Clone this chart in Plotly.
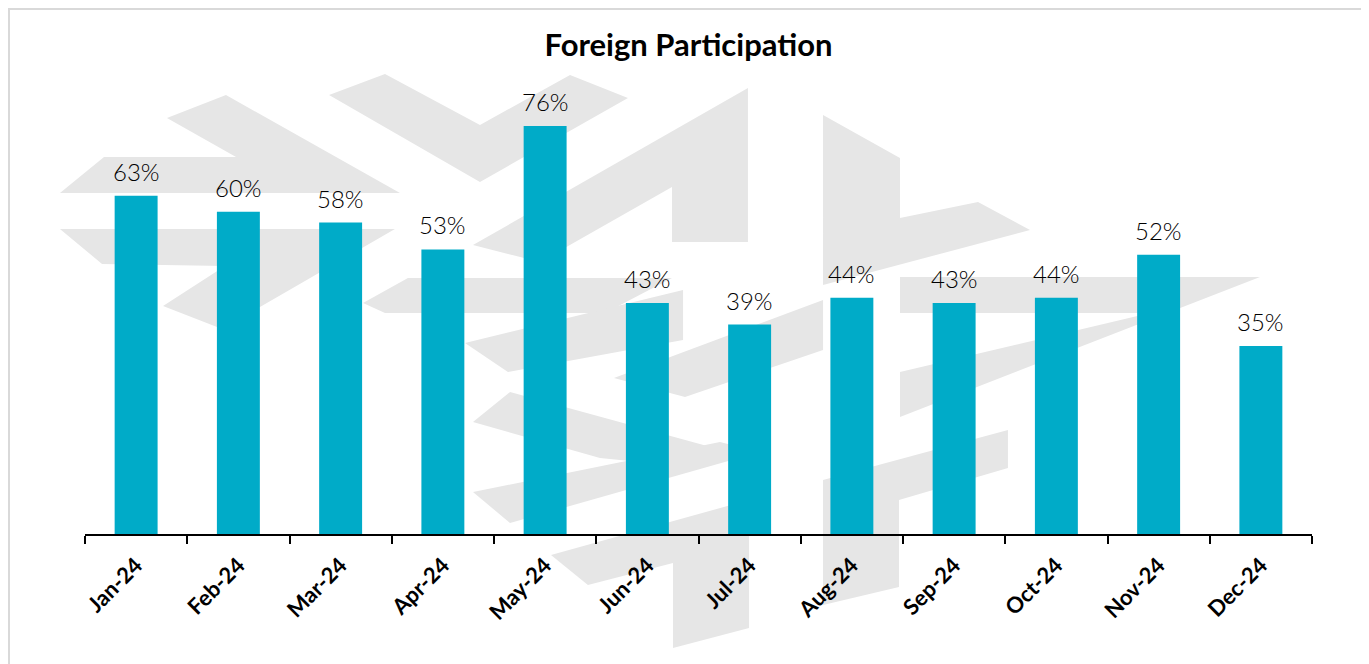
import plotly.graph_objects as go

months = ["Jan-24", "Feb-24", "Mar-24", "Apr-24", "May-24", "Jun-24",
          "Jul-24", "Aug-24", "Sep-24", "Oct-24", "Nov-24", "Dec-24"]
participation = [63, 60, 58, 53, 76, 43, 39, 44, 43, 44, 52, 35]

# the page body adds an 8px offset, so the figure is drawn 8px smaller
OFF = 8
W, H = 1369 - OFF, 664 - OFF
L, R, T, B = 85 - OFF, 1312 - OFF, 70 - OFF, 534 - OFF
BAR_COLOR = "#00abc8"
WM_COLOR = "#e6e6e6"

# watermark outline, in screenshot pixels
watermark = [
    [(60, 193), (104, 157), (236, 157), (167, 118), (226, 95), (400, 193)],
    [(60, 229), (395, 229), (260, 307), (217, 327), (163, 306), (225, 266), (102, 264)],
    [(329, 95), (385, 74), (480, 125), (570, 75), (628, 98), (480, 182)],
    [(473, 245), (748, 88), (748, 242), (672, 242), (672, 187), (540, 262)],
    [(363, 303), (408, 278), (672, 278), (605, 313), (385, 313)],
    [(465, 343), (683, 290), (683, 340), (508, 372)],
    [(473, 422), (510, 392), (740, 455), (700, 468), (600, 458)],
    [(473, 492), (720, 442), (760, 452), (510, 523)],
    [(551, 555), (749, 500), (749, 628), (673, 648), (673, 563), (588, 585)],
    [(614, 378), (823, 300), (823, 350), (685, 397)],
    [(823, 115), (900, 158), (900, 218), (978, 202), (1030, 230), (823, 285)],
    [(900, 277), (1260, 277), (900, 417), (900, 372), (1150, 313), (900, 313)],
    [(823, 480), (1008, 430), (1008, 468), (899, 500), (899, 587), (823, 605)],
]


def to_paper(px, py):
    px, py = px - OFF, py - OFF
    return (px - L) / (R - L), (B - py) / (B - T)


def poly_path(points):
    pts = [to_paper(x, y) for x, y in points]
    return "M " + " L ".join(f"{x:.4f},{y:.4f}" for x, y in pts) + " Z"


fig = go.Figure(
    go.Bar(
        x=months,
        y=participation,
        marker=dict(color=BAR_COLOR, line=dict(width=0)),
        hovertemplate="%{x}: %{y}%<extra></extra>",
    )
)

shapes = []
for poly in watermark:
    shapes.append(dict(
        type="path", path=poly_path(poly), xref="paper", yref="paper",
        fillcolor=WM_COLOR, line=dict(width=0), layer="below",
    ))
# light frame round the chart
x0, y0 = to_paper(9, 9)
x1, y1 = to_paper(1363, 680)
shapes.append(dict(
    type="rect", xref="paper", yref="paper", x0=x0, y0=y1, x1=x1, y1=y0,
    line=dict(color="#d9d9d9", width=2), fillcolor="rgba(0,0,0,0)",
))

annotations = [
    dict(x=m, y=v, text=f"{v}%", showarrow=False, yanchor="bottom",
         yshift=8, font=dict(family="Lato", size=24, color="black", weight=300))
    for m, v in zip(months, participation)
]

px_per_pct = 5.37
fig.update_layout(
    width=W,
    height=H,
    margin=dict(l=L, r=W - R, t=T, b=H - B),
    paper_bgcolor="white",
    plot_bgcolor="rgba(0,0,0,0)",
    bargap=0.58,
    showlegend=False,
    shapes=shapes,
    annotations=annotations,
    title=dict(
        text="<b>Foreign Participation</b>",
        x=0.5, xref="container", xanchor="center",
        y=1 - (45 - OFF) / H, yref="container", yanchor="middle",
        font=dict(family="Lato", size=31, color="black"),
    ),
    xaxis=dict(
        showline=True, linecolor="black", linewidth=1.5,
        ticks="outside", tickson="boundaries", ticklen=8,
        tickcolor="black", tickwidth=1.5, tickangle=-45,
        ticklabelstandoff=8,
        tickfont=dict(family="Lato", size=22, color="black", weight="bold"),
        showgrid=False,
    ),
    yaxis=dict(
        range=[0, (B - T) / px_per_pct],
        visible=False, showgrid=False, zeroline=False,
    ),
)

fig.write_html("out.html")
